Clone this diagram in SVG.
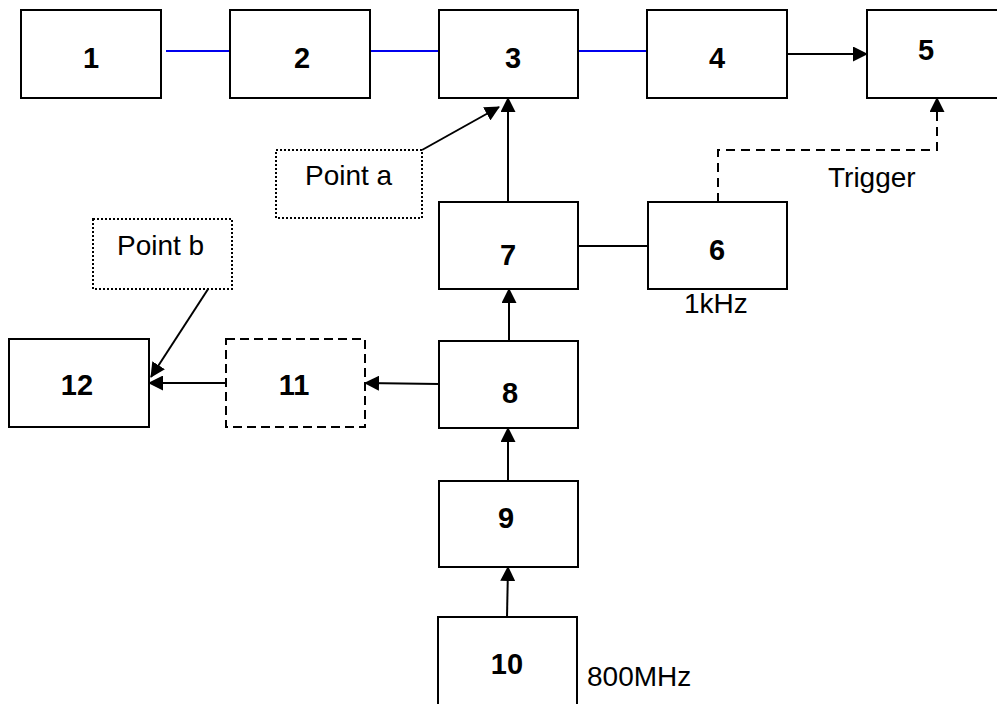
<svg xmlns="http://www.w3.org/2000/svg" width="997" height="704" viewBox="0 0 997 704">
<style>
.box{fill:#fff;stroke:#000;stroke-width:2}
.dash{fill:#fff;stroke:#000;stroke-width:2;stroke-dasharray:9 5}
.dot{fill:#fff;stroke:#000;stroke-width:2;stroke-dasharray:2 2}
.num{font-family:"Liberation Sans",Arial,sans-serif;font-weight:bold;font-size:29px;text-anchor:middle;fill:#000}
.lbl{font-family:"Liberation Sans",Arial,sans-serif;font-size:28px;fill:#000}
.c{fill:none;stroke:#000;stroke-width:2}
.blue{fill:none;stroke:#0000ee;stroke-width:2}
.arr{marker-end:url(#ah)}
</style>
<defs>
<marker id="ah" markerUnits="userSpaceOnUse" markerWidth="15" markerHeight="15" viewBox="0 0 15 15" refX="14" refY="7.5" orient="auto">
<path d="M0,0 L15,7.5 L0,15 z" fill="#000"/>
</marker>
</defs>
<rect width="997" height="704" fill="#fff"/>
<g id="connectors">
<line class="blue" x1="166" y1="51" x2="230" y2="51"/>
<line class="blue" x1="370" y1="51" x2="439" y2="51"/>
<line class="blue" x1="579" y1="51" x2="647" y2="51"/>
<line class="c arr" x1="787" y1="54" x2="867" y2="54"/>
<line class="c arr" x1="422" y1="150" x2="499" y2="107"/>
<line class="c arr" x1="508" y1="202" x2="508" y2="98"/>
<line class="c" x1="578" y1="246" x2="648" y2="246"/>
<path class="c arr" d="M718,202 V150 H937 V98" stroke-dasharray="9 6"/>
<line class="c arr" x1="509" y1="341" x2="509" y2="289"/>
<line class="c arr" x1="439" y1="384" x2="365" y2="383"/>
<line class="c arr" x1="226" y1="383" x2="149" y2="383"/>
<line class="c arr" x1="212" y1="283" x2="151" y2="377"/>
<line class="c arr" x1="508" y1="481" x2="508" y2="428"/>
<line class="c arr" x1="507" y1="617" x2="508" y2="567"/>
</g>
<g id="n1"><rect class="box" x="21" y="10" width="140" height="88"/><text class="num" x="91" y="68">1</text></g>
<g id="n2"><rect class="box" x="230" y="10" width="140" height="88"/><text class="num" x="302" y="68">2</text></g>
<g id="n3"><rect class="box" x="439" y="10" width="139" height="88"/><text class="num" x="513" y="68">3</text></g>
<g id="n4"><rect class="box" x="647" y="10" width="140" height="88"/><text class="num" x="717" y="68">4</text></g>
<g id="n5"><rect class="box" x="867" y="10" width="140" height="88"/><text class="num" x="926" y="60">5</text></g>
<g id="pointa"><rect class="dot" x="276" y="150" width="146" height="68"/><text class="lbl" x="305" y="185">Point a</text></g>
<g id="n7"><rect class="box" x="439" y="202" width="139" height="87"/><text class="num" x="508" y="265">7</text></g>
<g id="n6"><rect class="box" x="648" y="202" width="139" height="87"/><text class="num" x="717" y="260">6</text></g>
<g id="trigger"><text class="lbl" x="828" y="187">Trigger</text></g>
<g id="f1k"><text class="lbl" x="684" y="313">1kHz</text></g>
<g id="pointb"><rect class="dot" x="93" y="219" width="139" height="70"/><text class="lbl" x="117" y="255">Point b</text></g>
<g id="n12"><rect class="box" x="9" y="339" width="140" height="88"/><text class="num" x="77" y="395">12</text></g>
<g id="n11"><rect class="dash" x="226" y="339" width="139" height="88"/><text class="num" x="294" y="395">11</text></g>
<g id="n8"><rect class="box" x="439" y="341" width="139" height="87"/><text class="num" x="510" y="403">8</text></g>
<g id="n9"><rect class="box" x="439" y="481" width="139" height="86"/><text class="num" x="506" y="528">9</text></g>
<g id="n10"><rect class="box" x="438" y="617" width="139" height="92"/><text class="num" x="507" y="674">10</text></g>
<g id="f800"><text class="lbl" x="587" y="686">800MHz</text></g>
</svg>
